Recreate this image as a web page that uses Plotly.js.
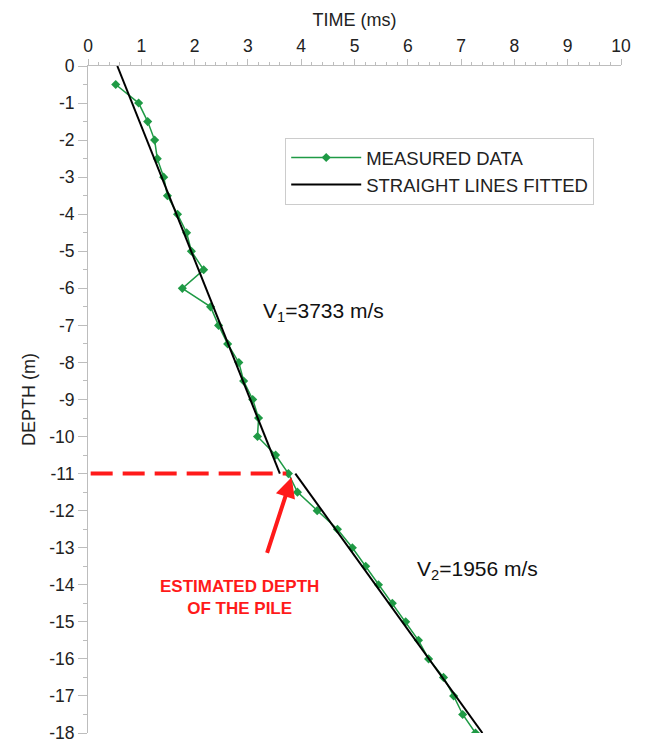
<!DOCTYPE html>
<html>
<head>
<meta charset="utf-8">
<script src="https://cdn.plot.ly/plotly-3.0.1.min.js"></script>
<style>html,body{margin:0;padding:0;background:#fff;}#chart{width:645px;height:742px;}</style>
</head>
<body>
<div id="chart"></div>
<script>
// Measured data (depth in m, travel time in ms)
const depthMeasured = [-0.5,-1,-1.5,-2,-2.5,-3,-3.5,-4,-4.5,-5,-5.5,-6,-6.5,-7,-7.5,-8,-8.5,-9,-9.5,-10,-10.5,-11,-11.5,-12,-12.5,-13,-13.5,-14,-14.5,-15,-15.5,-16,-16.5,-17,-17.5,-18];
const timeMeasured = [0.52,0.95,1.12,1.25,1.30,1.42,1.49,1.68,1.85,1.94,2.17,1.77,2.30,2.45,2.62,2.83,2.92,3.09,3.20,3.18,3.52,3.76,3.93,4.30,4.68,4.96,5.21,5.45,5.71,5.96,6.20,6.39,6.67,6.86,7.03,7.27];

// Fitted straight lines
const fit1Time = [0.55, 3.60];
const fit1Depth = [0, -11];
const fit2Time = [3.89, 7.40];
const fit2Depth = [-11, -18];

// Depth axis tick values and labels (hyphen minus as in the reference)
const depthTickVals = [0,-1,-2,-3,-4,-5,-6,-7,-8,-9,-10,-11,-12,-13,-14,-15,-16,-17,-18];
const depthTickText = ['0','-1','-2','-3','-4','-5','-6','-7','-8','-9','-10','-11','-12','-13','-14','-15','-16','-17','-18'];

const pileDepth = -11;
const pileTime = 3.72;

const green = '#1f9a45';
const red = '#ff1a1a';
const axisGray = '#bdbdbd';
const font = 'Arial, "Liberation Sans", sans-serif';

const traces = [
  {
    x: timeMeasured, y: depthMeasured, type: 'scatter', mode: 'lines+markers',
    name: 'MEASURED DATA',
    line: {color: green, width: 1.5},
    marker: {symbol: 'diamond', size: 7, color: green}
  },
  {
    x: fit1Time, y: fit1Depth, type: 'scatter', mode: 'lines',
    name: 'STRAIGHT LINES FITTED',
    line: {color: '#000000', width: 2}
  },
  {
    x: fit2Time, y: fit2Depth, type: 'scatter', mode: 'lines',
    name: 'STRAIGHT LINES FITTED', showlegend: false,
    line: {color: '#000000', width: 2}
  }
];

const layout = {
  width: 645, height: 742,
  margin: {l: 88, r: 24, t: 66, b: 9},
  paper_bgcolor: '#ffffff', plot_bgcolor: '#ffffff',
  font: {family: font, size: 17, color: '#222'},
  showlegend: true,
  legend: {
    x: 0.37, y: 0.892, xanchor: 'left', yanchor: 'top',
    bordercolor: '#cccccc', borderwidth: 1, bgcolor: '#ffffff',
    itemwidth: 70, tracegroupgap: 0,
    font: {family: font, size: 18.5, color: '#222'}
  },
  xaxis: {
    side: 'top', range: [0, 10], dtick: 1, tick0: 0,
    showgrid: false, zeroline: false,
    showline: true, linecolor: axisGray, linewidth: 1,
    ticks: 'outside', ticklen: 6, tickcolor: axisGray,
    minor: {dtick: 0.2, ticks: 'outside', ticklen: 3, tickcolor: axisGray},
    tickfont: {family: font, size: 17.5, color: '#222'},
    ticklabeloverflow: 'allow',
    title: {text: 'TIME (ms)', font: {family: font, size: 18, color: '#222'}, standoff: 4},
    fixedrange: true
  },
  yaxis: {
    range: [-18, 0],
    tickmode: 'array', tickvals: depthTickVals, ticktext: depthTickText,
    showgrid: false, zeroline: false,
    showline: true, linecolor: axisGray, linewidth: 1,
    ticks: 'outside', ticklen: 9, tickcolor: axisGray,
    minor: {dtick: 0.5, tick0: 0, ticks: 'outside', ticklen: 4, tickcolor: axisGray},
    tickfont: {family: font, size: 17.5, color: '#222'},
    ticklabeloverflow: 'allow',
    title: {text: 'DEPTH (m)', font: {family: font, size: 18, color: '#222'}, standoff: 8},
    fixedrange: true
  },
  shapes: [
    {
      type: 'line', xref: 'x', yref: 'y',
      x0: 0.05, x1: pileTime, y0: pileDepth, y1: pileDepth,
      line: {color: red, width: 4, dash: '22px,10px'}
    }
  ],
  annotations: [
    {
      x: 3.24, y: -6.64, xref: 'x', yref: 'y', xanchor: 'left', yanchor: 'middle',
      text: 'V<sub>1</sub>=3733 m/s', showarrow: false,
      font: {family: font, size: 21, color: '#111'}
    },
    {
      x: 6.14, y: -13.6, xref: 'x', yref: 'y', xanchor: 'left', yanchor: 'middle',
      text: 'V<sub>2</sub>=1956 m/s', showarrow: false,
      font: {family: font, size: 21, color: '#111'}
    },
    {
      x: 2.85, y: -14.33, xref: 'x', yref: 'y', xanchor: 'center', yanchor: 'middle',
      text: '<b>ESTIMATED DEPTH<br>OF THE PILE</b>', showarrow: false,
      font: {family: font, size: 17, color: red}
    },
    {
      x: 3.82, y: -11.1, xref: 'x', yref: 'y', text: '',
      showarrow: true, arrowhead: 2, arrowsize: 1, arrowwidth: 4,
      arrowcolor: red, ax: -25, ay: 77, standoff: 0
    }
  ]
};

Plotly.newPlot('chart', traces, layout, {displayModeBar: false, staticPlot: true});
</script>
</body>
</html>
